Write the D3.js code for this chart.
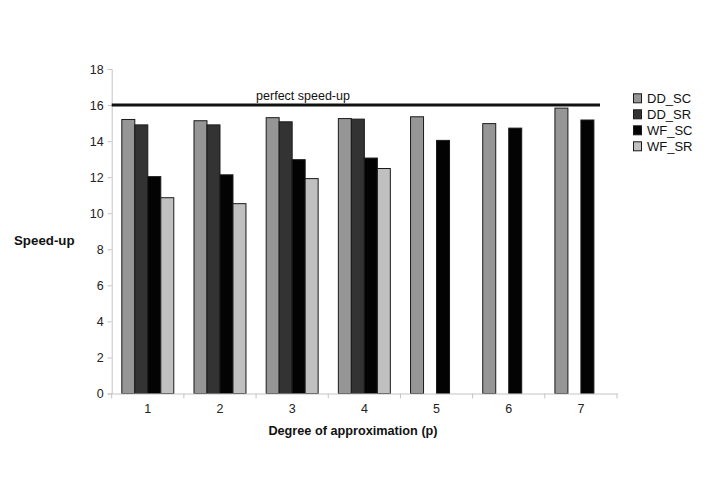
<!DOCTYPE html>
<html>
<head>
<meta charset="utf-8">
<script src="https://cdn.jsdelivr.net/npm/d3@7"></script>
<style>
  body { margin: 0; background: #fff; }
  text { font-family: "Liberation Sans", Arial, sans-serif; }
</style>
</head>
<body>
<div class="chart"></div>
<script>
const categories = ["1", "2", "3", "4", "5", "6", "7"];
const seriesNames = ["DD_SC", "DD_SR", "WF_SC", "WF_SR"];
const ddSC = [15.2, 15.13, 15.3, 15.25, 15.35, 14.97, 15.83];
const ddSR = [14.9, 14.9, 15.07, 15.22, null, null, null];
const wfSC = [12.03, 12.13, 12.97, 13.06, 14.04, 14.72, 15.17];
const wfSR = [10.86, 10.53, 11.92, 12.48, null, null, null];
const yTicks = [0, 2, 4, 6, 8, 10, 12, 14, 16, 18];
const perfect = 16;

const colors = ["#969696", "#333333", "#030303", "#c0c0c0"];
const seriesValues = [ddSC, ddSR, wfSC, wfSR];

const w = 708;
const h = 501;
const plotLeft = 111.7, plotRight = 617, plotTop = 69, plotBottom = 393.5;

const svg = d3.select(".chart")
    .append("svg")
    .attr("width", w)
    .attr("height", h);

const x0 = d3.scaleBand()
    .domain(categories)
    .range([plotLeft, plotRight])
    .padding(0);

const bw = x0.bandwidth();
const x1 = d3.scaleBand()
    .domain(seriesNames)
    .range([bw * 0.14, bw * 0.86])
    .padding(0);

const yScale = d3.scaleLinear()
    .domain([0, 18])
    .range([plotBottom, plotTop]);

// y axis
const yAxis = svg.append("g")
    .attr("transform", "translate(" + plotLeft + ",0)")
    .call(d3.axisLeft(yScale).tickValues(yTicks).tickSize(4).tickPadding(4));
yAxis.select(".domain").attr("stroke", "#c4c4c4");
yAxis.selectAll(".tick line").attr("stroke", "#c4c4c4");
yAxis.selectAll(".tick text")
    .attr("fill", "#222")
    .style("font-size", "12.5px");

// bars
const rows = [];
categories.forEach((c, i) => {
    seriesNames.forEach((s, j) => {
        const v = seriesValues[j][i];
        if (v != null) rows.push({ cat: c, series: s, value: v, color: colors[j] });
    });
});

svg.append("g")
    .selectAll("rect")
    .data(rows)
    .enter()
    .append("rect")
    .attr("x", d => x0(d.cat) + x1(d.series))
    .attr("y", d => yScale(d.value))
    .attr("width", x1.bandwidth())
    .attr("height", d => yScale(0) - yScale(d.value))
    .attr("fill", d => d.color)
    .attr("stroke", "#1a1a1a")
    .attr("stroke-width", 1);

// x axis
const xAxis = svg.append("g")
    .attr("transform", "translate(0," + plotBottom + ")")
    .call(d3.axisBottom(x0).tickSize(0).tickPadding(11));
xAxis.select(".domain").attr("stroke", "#c4c4c4");
xAxis.selectAll(".tick text")
    .attr("fill", "#222")
    .style("font-size", "12.5px");

svg.append("g")
    .selectAll("line")
    .data(categories.concat(["end"]))
    .enter()
    .append("line")
    .attr("x1", (d, i) => plotLeft + i * bw)
    .attr("x2", (d, i) => plotLeft + i * bw)
    .attr("y1", plotBottom)
    .attr("y2", plotBottom + 5)
    .attr("stroke", "#c4c4c4");

// perfect speed-up line
svg.append("line")
    .attr("x1", plotLeft)
    .attr("x2", 600)
    .attr("y1", yScale(perfect))
    .attr("y2", yScale(perfect))
    .attr("stroke", "#111")
    .attr("stroke-width", 3);

svg.append("text")
    .attr("x", 303)
    .attr("y", yScale(perfect) - 5)
    .attr("text-anchor", "middle")
    .attr("fill", "#111")
    .style("font-size", "12.5px")
    .text("perfect speed-up");

// axis titles
svg.append("text")
    .attr("x", 14)
    .attr("y", 245)
    .attr("font-weight", "bold")
    .attr("fill", "#111")
    .style("font-size", "13.3px")
    .text("Speed-up");

svg.append("text")
    .attr("x", 353)
    .attr("y", 435)
    .attr("text-anchor", "middle")
    .attr("font-weight", "bold")
    .attr("fill", "#111")
    .style("font-size", "12.7px")
    .text("Degree of approximation (p)");

// legend
const legend = svg.append("g")
    .selectAll("g")
    .data(seriesNames)
    .enter()
    .append("g")
    .attr("transform", (d, i) => "translate(633," + (98.3 + i * 16) + ")");

legend.append("rect")
    .attr("x", 0.5)
    .attr("y", -4.5)
    .attr("width", 8)
    .attr("height", 9)
    .attr("fill", (d, i) => colors[i])
    .attr("stroke", "#1a1a1a");

legend.append("text")
    .attr("x", 14)
    .attr("y", 4.8)
    .attr("fill", "#111")
    .style("font-size", "13px")
    .text(d => d);
</script>
</body>
</html>
